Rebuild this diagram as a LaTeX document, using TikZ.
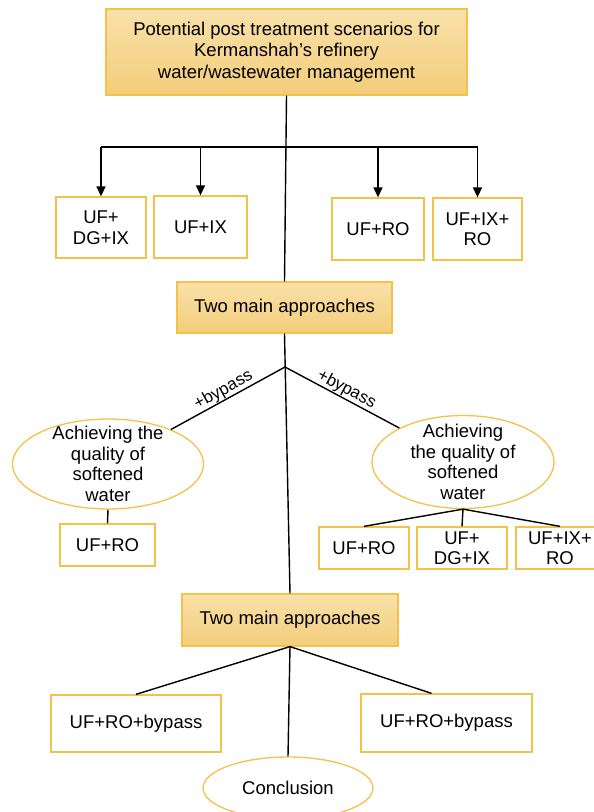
\documentclass[tikz,border=0pt]{standalone}
\usepackage{fontspec}
\setmainfont{Liberation Sans}
\usetikzlibrary{positioning, arrows.meta, shapes.geometric}
\definecolor{boxline}{HTML}{F4C14A}
\definecolor{boxtop}{HTML}{F9E1A9}
\definecolor{boxbot}{HTML}{F3CD7B}

\begin{document}
\begin{tikzpicture}[x=1pt,y=-1pt,head/.style={draw=boxline,line width=1.2pt,top color=boxtop,bottom color=boxbot,align=center,inner sep=0pt,font=\fontsize{18.5}{21.5}\selectfont},opt/.style={draw=boxline,line width=1.3pt,fill=white,align=center,inner sep=0pt,font=\fontsize{18.5}{20.5}\selectfont},goal/.style={ellipse,draw=boxline,line width=1.3pt,fill=white,align=center,inner xsep=0pt,inner ysep=-20pt,font=\fontsize{18.5}{20.5}\selectfont},link/.style={line width=1.4pt},arrow/.style={line width=1.4pt,-{Triangle[length=10pt,width=9pt]}},tag/.style={font=\fontsize{17}{17}\selectfont,sloped,above,inner sep=0.5pt}]
\useasboundingbox (0,0) rectangle (594,812);
\node[head, minimum width=361pt, minimum height=86pt] (title) at (286.5,52) {Potential post treatment scenarios for\\Kermanshah’s refinery\\water/wastewater management};
\node[opt, minimum width=90pt, minimum height=61pt] (ufdgix) at (101,227.5) {UF+\\DG+IX};
\node[opt, minimum width=93pt, minimum height=62pt] (ufix) at (200.5,227) {UF+IX};
\node[opt, minimum width=92pt, minimum height=62pt] (ufro) at (378,229) {UF+RO};
\node[opt, minimum width=89pt, minimum height=62pt] (ufixro) at (477.5,229) {UF+IX+\\RO};
\node[head, minimum width=215pt, minimum height=51pt] (approach) at (284.5,307.5) {Two main approaches};
\coordinate (bar) at (285,147);
\coordinate (fork) at (285,367);
\draw[link] (title.south) -- (approach.north);
\draw[link] (bar -| ufdgix.north) -- (bar -| ufixro.north);
\draw[arrow] (bar -| ufdgix.north) -- (ufdgix.north);
\draw[arrow] (bar -| ufix.north) -- (ufix.north);
\draw[arrow] (bar -| ufro.north) -- (ufro.north);
\draw[arrow] (bar -| ufixro.north) -- (ufixro.north);
\node[goal, minimum width=191pt, minimum height=90pt] (softl) at (108,464) {Achieving the\\quality of\\softened\\water};
\node[goal, minimum width=182pt, minimum height=93pt] (softr) at (463,462) {Achieving\\the quality of\\softened\\water};
\draw[link] (fork) -- node[tag] {+bypass} (softl);
\draw[link] (fork) -- node[tag] {+bypass} (softr);
\node[opt, minimum width=95pt, minimum height=42pt] (lro) at (107.5,545) {UF+RO};
\node[opt, minimum width=90pt, minimum height=42pt] (rro) at (364,548) {UF+RO};
\node[opt, minimum width=90pt, minimum height=42pt] (rdgix) at (462,548) {UF+\\DG+IX};
\node[opt, minimum width=88pt, minimum height=42pt] (rixro) at (560,548) {UF+IX+\\RO};
\draw[link] (softl.south) -- (lro.north);
\draw[link] (softr.south) -- (rro.north);
\draw[link] (softr.south) -- (rdgix.north);
\draw[link] (softr.south) -- (rixro.north);
\node[head, minimum width=216pt, minimum height=52pt] (approach2) at (290,620) {Two main approaches};
\draw[link] (approach.south) -- (approach2.north);
\node[opt, minimum width=170pt, minimum height=57pt] (bypl) at (136,723.5) {UF+RO+bypass};
\node[opt, minimum width=171pt, minimum height=58pt] (bypr) at (446.5,723) {UF+RO+bypass};
\node[goal, minimum width=170pt, minimum height=62pt] (concl) at (288,788) {Conclusion};
\draw[link] (approach2.south) -- (bypl.north);
\draw[link] (approach2.south) -- ([xshift=-15pt]bypr.north);
\draw[link] (approach2.south) -- (concl.north);
\end{tikzpicture}
\end{document}
